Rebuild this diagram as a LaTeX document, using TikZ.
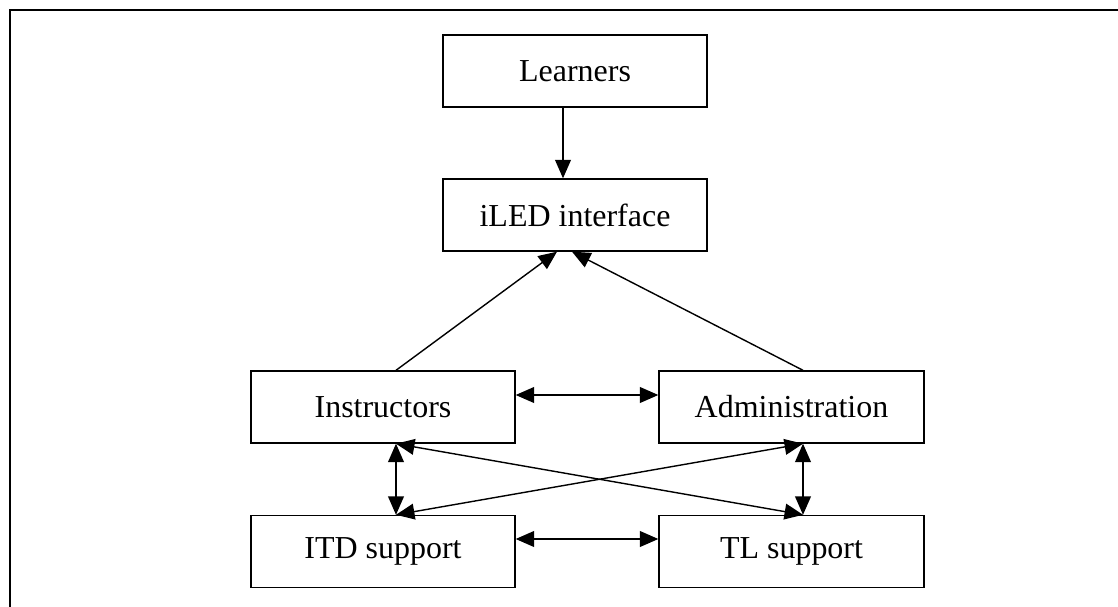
\documentclass[tikz,border=0pt]{standalone}
\usepackage{fontspec}
\setmainfont{Liberation Serif}
\usetikzlibrary{arrows.meta}
\begin{document}
\begin{tikzpicture}[
x=0.02cm, y=-0.02cm,
box/.style = {draw=black, line width=0.8pt, rectangle, minimum width=5.28cm, minimum height=1.44cm, font=\fontsize{18.2}{22}\selectfont},
>={Triangle[length=10.5pt,width=9pt]},
]
\useasboundingbox (0,0) rectangle (1118,607);
\draw[line width=1.3pt] (10,700) -- (10,10) -- (1200,10);
\node[box] (n1) at (575,71) {Learners};
\node[box] (n2) at (575,215) {iLED interface};
\node[box] (n3) at (383,407) {Instructors};
\node[box, minimum width=5.3cm] (n4) at (791.5,407) {Administration};
\node[box] (n5) at (383,551.5) {ITD support};
\node[box, minimum width=5.3cm] (n6) at (791.5,551.5) {TL support};
\path[->,draw=black, line width=0.8pt] ([xshift=-0.24cm]n1.south) -- ([xshift=-0.24cm]n2.north) ;
\path[->,draw=black, line width=0.8pt] ([xshift=0.26cm]n3.north) -- ([xshift=-0.36cm]n2.south) ;
\path[->,draw=black, line width=0.8pt] ([xshift=0.23cm]n4.north) -- ([xshift=-0.06cm]n2.south) ;
\path[<->,draw=black, line width=0.8pt] ([yshift=0.24cm]n3.east) -- ([yshift=0.24cm]n4.west) ;
\path[<->,draw=black, line width=0.8pt] ([yshift=0.25cm]n5.east) -- ([yshift=0.25cm]n6.west) ;
\path[<->,draw=black, line width=0.8pt] ([xshift=0.26cm]n3.south) -- ([xshift=0.26cm]n5.north) ;
\path[<->,draw=black, line width=0.8pt] ([xshift=0.23cm]n4.south) -- ([xshift=0.23cm]n6.north) ;
\path[<->,draw=black, line width=0.8pt] ([xshift=0.26cm]n3.south) -- ([xshift=0.23cm]n6.north) ;
\path[<->,draw=black, line width=0.8pt] ([xshift=0.26cm]n5.north) -- ([xshift=0.23cm]n4.south) ;

\end{tikzpicture}
\end{document}
